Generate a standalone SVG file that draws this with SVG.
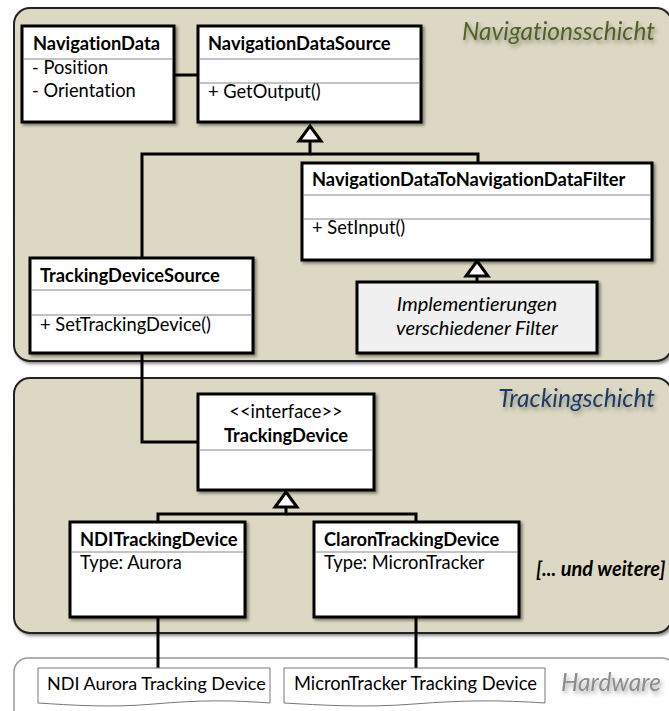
<svg xmlns="http://www.w3.org/2000/svg" width="669" height="711" viewBox="0 0 669 711">
<defs>
<filter id="sh" x="-10%" y="-10%" width="130%" height="130%">
<feDropShadow dx="2" dy="2" stdDeviation="1.5" flood-color="#000" flood-opacity="0.45"/>
</filter>
<filter id="tsh" x="-10%" y="-30%" width="130%" height="180%">
<feDropShadow dx="2" dy="3" stdDeviation="2" flood-color="#000" flood-opacity="0.35"/>
</filter>
</defs>
<style>
text{font-variant-ligatures:none;font-feature-settings:"liga" 0,"dlig" 0}
.panel{fill:#ddd8c3;stroke:#222;stroke-width:2;filter:url(#sh)}
.box{fill:#fff;stroke:#000;stroke-width:3;filter:url(#sh)}
.div{stroke:#888;stroke-width:1;fill:none}
.t{font-family:Lato,"Liberation Sans",sans-serif;font-size:18.3px;fill:#000}
.b{font-weight:bold}
.i{font-style:italic;font-size:20px}
.c{stroke:#000;stroke-width:3;fill:none}
.tri{fill:#fff;stroke:#000;stroke-width:3;stroke-linejoin:miter}
.hw{fill:#fff;stroke:#777;stroke-width:1}
.lbl{font-family:Lato,"Liberation Sans",sans-serif;font-size:24.5px;font-style:italic;filter:url(#tsh)}
</style>
<rect class="panel" x="14" y="8" width="658" height="353" rx="16"/>
<rect class="panel" x="14" y="378" width="658" height="255" rx="16"/>
<rect x="14" y="658" width="662" height="70" rx="14" fill="#fff" stroke="#999" stroke-width="1.5"/>
<text class="lbl" x="655" y="40" text-anchor="end" fill="#4f6228">Navigationsschicht</text>
<text class="lbl" x="655" y="407" text-anchor="end" fill="#1f3b64">Trackingschicht</text>
<text class="lbl" x="661" y="691" text-anchor="end" fill="#8c8c8c">Hardware</text>
<g id="connectors">
<line class="c" x1="174" y1="75" x2="198" y2="75"/>
<polyline class="c" points="310,141 310,154 142,154 142,258"/>
<polyline class="c" points="310,154 478,154 478,163"/>
<line class="c" x1="477" y1="276" x2="477" y2="282"/>
<polyline class="c" points="142,353 142,442 198,442"/>
<polyline class="c" points="286,507 286,514 158,514 158,522"/>
<polyline class="c" points="286,514 416,514 416,522"/>
<line class="c" x1="158" y1="617" x2="158" y2="668"/>
<line class="c" x1="416" y1="617" x2="416" y2="668"/>
<polygon class="tri" points="310,126 321,141 299,141"/>
<polygon class="tri" points="477,261 488,276 466,276"/>
<polygon class="tri" points="286,492 297,507 275,507"/>
</g>
<g id="NavigationData">
<rect class="box" x="22" y="26" width="152" height="96"/>
<line class="div" x1="23.5" y1="59" x2="172.5" y2="59"/>
<text class="t b" x="33" y="50">NavigationData</text>
<text class="t" x="32" y="74">- Position</text>
<text class="t" x="32" y="97">- Orientation</text>
</g>
<g id="NavigationDataSource">
<rect class="box" x="198" y="26" width="223" height="96"/>
<line class="div" x1="199.5" y1="59" x2="419.5" y2="59"/>
<line class="div" x1="199.5" y1="83" x2="419.5" y2="83"/>
<text class="t b" x="208" y="50">NavigationDataSource</text>
<text class="t" x="208" y="98">+ GetOutput()</text>
</g>
<g id="NavigationDataToNavigationDataFilter">
<rect class="box" x="302" y="163" width="350" height="97"/>
<line class="div" x1="303.5" y1="195" x2="650.5" y2="195"/>
<line class="div" x1="303.5" y1="219" x2="650.5" y2="219"/>
<text class="t b" x="312" y="186">NavigationDataToNavigationDataFilter</text>
<text class="t" x="312" y="234">+ SetInput()</text>
</g>
<g id="Implementierungen">
<rect class="box" x="357" y="282" width="240" height="71" style="fill:#f0f0f0"/>
<text class="t i" x="477" y="311" text-anchor="middle">Implementierungen</text>
<text class="t i" x="477" y="335" text-anchor="middle">verschiedener Filter</text>
</g>
<g id="TrackingDeviceSource">
<rect class="box" x="30" y="258" width="223" height="95"/>
<line class="div" x1="31.5" y1="290" x2="251.5" y2="290"/>
<line class="div" x1="31.5" y1="315" x2="251.5" y2="315"/>
<text class="t b" x="40" y="282">TrackingDeviceSource</text>
<text class="t" x="40" y="331">+ SetTrackingDevice()</text>
</g>
<g id="TrackingDevice">
<rect class="box" x="198" y="394" width="176" height="96"/>
<line class="div" x1="199.5" y1="450" x2="372.5" y2="450"/>
<text class="t" x="286" y="418" text-anchor="middle">&lt;&lt;interface&gt;&gt;</text>
<text class="t b" x="286" y="442" text-anchor="middle">TrackingDevice</text>
</g>
<g id="NDITrackingDevice">
<rect class="box" x="70" y="522" width="175" height="95"/>
<line class="div" x1="71.5" y1="552" x2="243.5" y2="552"/>
<text class="t b" x="80" y="546">NDITrackingDevice</text>
<text class="t" x="80" y="569">Type: Aurora</text>
</g>
<g id="ClaronTrackingDevice">
<rect class="box" x="314" y="522" width="205" height="95"/>
<line class="div" x1="315.5" y1="552" x2="517.5" y2="552"/>
<text class="t b" x="324" y="546">ClaronTrackingDevice</text>
<text class="t" x="324" y="569">Type: MicronTracker</text>
</g>
<g id="weitere">
<text class="t b i" x="536" y="576">[... und weitere]</text>
</g>
<g id="NDIAurora">
<path class="hw" d="M38,668 H270 V703 C230,700 200,700 154,704 C110,708 70,705 38,703 Z"/>
<text class="t" x="47" y="690" style="font-size:18px">NDI Aurora Tracking Device</text>
</g>
<g id="MicronTrackerDevice">
<path class="hw" d="M284,668 H545 V703 C500,700 465,700 414,704 C365,708 320,705 284,703 Z"/>
<text class="t" x="294" y="690">MicronTracker Tracking Device</text>
</g>
</svg>
